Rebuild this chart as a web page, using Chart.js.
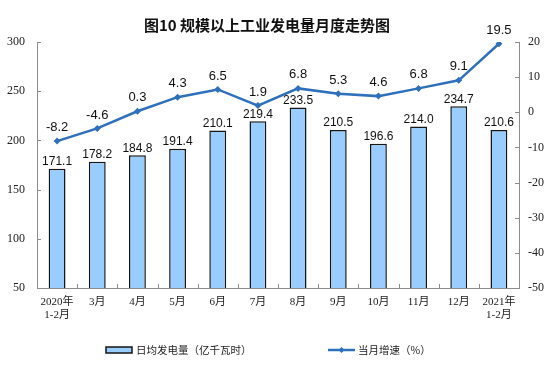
<!DOCTYPE html>
<html>
<head>
<meta charset="utf-8">
<script src="https://cdn.jsdelivr.net/npm/chart.js@4/dist/chart.umd.min.js"></script>
<style>
  html, body { margin: 0; padding: 0; background: #fff; }
  #wrap { width: 557px; height: 368px; }
</style>
</head>
<body>
<div id="wrap"><canvas id="powerChart"></canvas></div>
<script>
const categories = [["2020年", "1-2月"], "3月", "4月", "5月", "6月", "7月", "8月", "9月", "10月", "11月", "12月", ["2021年", "1-2月"]];
const dailyPower = [171.1, 178.2, 184.8, 191.4, 210.1, 219.4, 233.5, 210.5, 196.6, 214.0, 234.7, 210.6];
const monthGrowth = [-8.2, -4.6, 0.3, 4.3, 6.5, 1.9, 6.8, 5.3, 4.6, 6.8, 9.1, 19.5];
const leftTicks = [50, 100, 150, 200, 250, 300];
const rightTicks = [-50, -40, -30, -20, -10, 0, 10, 20];

const titleText = "图10 规模以上工业发电量月度走势图";
const barLegend = "日均发电量（亿千瓦时）";
const lineLegend = "当月增速（%）";

const BAR_FILL = "#99ccff";
const BAR_EDGE = "#151515";
const LINE_COLOR = "#2e70bb";
const AXIS_COLOR = "#8c8c8c";
const CJK = '"Noto Sans CJK SC", "Noto Sans", sans-serif';
const TICK_FONT = '"Liberation Serif", "Noto Sans CJK SC", serif';

const extras = {
  id: "extras",
  afterDatasetsDraw(chart) {
    const ctx = chart.ctx;
    const x = chart.scales.x;
    const yl = chart.scales.y;
    const yr = chart.scales.y1;
    const area = chart.chartArea;

    // inward tick marks
    ctx.save();
    ctx.strokeStyle = AXIS_COLOR;
    ctx.lineWidth = 1;
    ctx.beginPath();
    leftTicks.forEach((v) => {
      const py = Math.round(yl.getPixelForValue(v)) + 0.5;
      ctx.moveTo(area.left, py);
      ctx.lineTo(area.left + 4, py);
    });
    rightTicks.forEach((v) => {
      const py = Math.round(yr.getPixelForValue(v)) + 0.5;
      ctx.moveTo(area.right, py);
      ctx.lineTo(area.right - 4, py);
    });
    for (let i = 1; i < categories.length; i++) {
      const px = Math.round((x.getPixelForValue(i - 1) + x.getPixelForValue(i)) / 2) + 0.5;
      ctx.moveTo(px, area.bottom);
      ctx.lineTo(px, area.bottom - 4);
    }
    ctx.stroke();
    ctx.restore();

    // value labels
    ctx.save();
    ctx.fillStyle = "#111";
    ctx.textAlign = "center";
    ctx.textBaseline = "bottom";
    ctx.font = '12px "Liberation Sans", Arial, sans-serif';
    chart.getDatasetMeta(0).data.forEach((bar, i) => {
      ctx.fillText(dailyPower[i].toFixed(1), bar.x, bar.y - 1);
    });
    ctx.font = '13px "Liberation Sans", Arial, sans-serif';
    chart.getDatasetMeta(1).data.forEach((pt, i) => {
      ctx.fillText(monthGrowth[i].toFixed(1), pt.x, pt.y - 7);
    });
    ctx.restore();
  },
  afterDraw(chart) {
    const ctx = chart.ctx;
    ctx.save();
    // title
    ctx.fillStyle = "#111";
    ctx.textAlign = "center";
    ctx.textBaseline = "middle";
    ctx.font = "bold 15px " + CJK;
    ctx.fillText(titleText, 267, 25);

    // legend
    const ly = 350;
    ctx.fillStyle = BAR_FILL;
    ctx.strokeStyle = BAR_EDGE;
    ctx.lineWidth = 1.5;
    ctx.fillRect(106, ly - 3, 26, 6);
    ctx.strokeRect(106, ly - 3, 26, 6);

    ctx.strokeStyle = LINE_COLOR;
    ctx.lineWidth = 2.5;
    ctx.beginPath();
    ctx.moveTo(328, ly);
    ctx.lineTo(355, ly);
    ctx.stroke();
    ctx.fillStyle = LINE_COLOR;
    ctx.beginPath();
    ctx.moveTo(341.5, ly - 3);
    ctx.lineTo(344.5, ly);
    ctx.lineTo(341.5, ly + 3);
    ctx.lineTo(338.5, ly);
    ctx.closePath();
    ctx.fill();

    ctx.fillStyle = "#222";
    ctx.textAlign = "left";
    ctx.font = "10.5px " + CJK;
    ctx.fillText(barLegend, 136, ly);
    ctx.fillText(lineLegend, 358, ly);
    ctx.restore();
  },
};

new Chart(document.getElementById("powerChart"), {
  type: "bar",
  plugins: [extras],
  data: {
    labels: categories,
    datasets: [
      {
        type: "bar",
        label: barLegend,
        data: dailyPower,
        yAxisID: "y",
        backgroundColor: BAR_FILL,
        borderColor: BAR_EDGE,
        borderWidth: 1.5,
        barPercentage: 0.42,
        categoryPercentage: 1,
        order: 1,
      },
      {
        type: "line",
        label: lineLegend,
        data: monthGrowth,
        yAxisID: "y1",
        borderColor: LINE_COLOR,
        backgroundColor: LINE_COLOR,
        borderWidth: 2.5,
        pointStyle: "rectRot",
        pointRadius: 3.5,
        pointBackgroundColor: LINE_COLOR,
        pointBorderWidth: 0,
        tension: 0,
        order: 0,
      },
    ],
  },
  options: {
    responsive: true,
    maintainAspectRatio: false,
    animation: false,
    layout: {
      padding: { top: 42, left: 0, right: 0, bottom: 0 },
    },
    plugins: {
      legend: { display: false },
      title: { display: false },
      tooltip: { enabled: false },
    },
    scales: {
      x: {
        offset: true,
        grid: { display: false, drawTicks: false },
        border: { display: true, color: AXIS_COLOR, width: 1 },
        ticks: {
          color: "#222",
          padding: 8,
          maxRotation: 0,
          autoSkip: false,
          font: { family: TICK_FONT, size: 11, lineHeight: 1.15 },
        },
        afterFit(scale) {
          scale.height = 80;
        },
      },
      y: {
        position: "left",
        min: 50,
        max: 300,
        grid: { display: false, drawTicks: false },
        border: { display: true, color: AXIS_COLOR, width: 1 },
        ticks: {
          stepSize: 50,
          color: "#222",
          padding: 12,
          font: { family: TICK_FONT, size: 12 },
        },
        afterFit(scale) {
          scale.width = 37;
        },
      },
      y1: {
        position: "right",
        min: -50,
        max: 20,
        grid: { display: false, drawTicks: false },
        border: { display: true, color: AXIS_COLOR, width: 1 },
        ticks: {
          stepSize: 10,
          color: "#222",
          padding: 9,
          font: { family: TICK_FONT, size: 12 },
        },
        afterFit(scale) {
          scale.width = 38;
        },
      },
    },
  },
});
</script>
</body>
</html>
